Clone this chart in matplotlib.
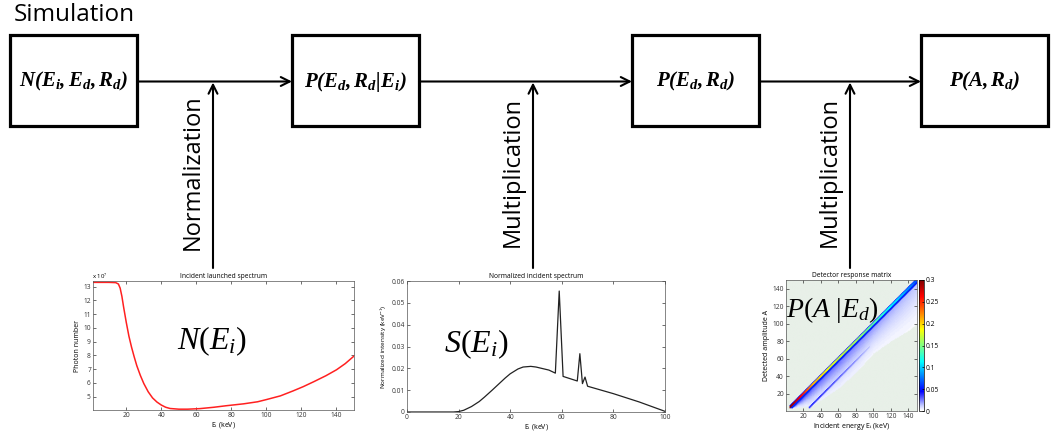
import numpy as np
import matplotlib
matplotlib.use('Agg')
import matplotlib.pyplot as plt
from matplotlib.colors import LinearSegmentedColormap
from matplotlib.patches import Rectangle

plt.rcParams['font.family'] = ['Open Sans', 'DejaVu Sans']
plt.rcParams['mathtext.fontset'] = 'custom'
plt.rcParams['mathtext.rm'] = 'Liberation Serif'
plt.rcParams['mathtext.it'] = 'Liberation Serif:italic'
plt.rcParams['mathtext.bf'] = 'Liberation Serif:bold:italic'

# --- flow diagram ---
box_labels = [r'$\mathbf{N(E_i,E_d,R_d)}$', r'$\mathbf{P(E_d,R_d|E_i)}$',
              r'$\mathbf{P(E_d,R_d)}$', r'$\mathbf{P(A,R_d)}$']
box_left = [10, 292, 632, 921]
step_labels = ['Normalization', 'Multiplication', 'Multiplication']
step_x = [213, 533, 850]

# --- incident launched spectrum (x 1e7) ---
n_E = [1, 10, 14, 15.5, 16.5, 17.5, 18.5, 20, 21.5, 23, 24.5, 26, 28, 30, 32.5, 35, 37.5, 40, 42.5,
       45, 50, 55, 62, 70, 77, 87, 95, 100, 108, 115, 121, 127, 134, 140, 145, 150]
n_val = [13.32, 13.32, 13.3, 13.2, 12.9, 12.3, 11.5, 10.4, 9.4, 8.6, 7.9, 7.25, 6.55, 5.95, 5.35,
         4.9, 4.6, 4.38, 4.22, 4.13, 4.08, 4.08, 4.12, 4.22, 4.33, 4.47, 4.62, 4.78, 5.05, 5.4,
         5.72, 6.08, 6.52, 6.95, 7.4, 7.95]

# --- normalized incident spectrum ---
s_E = [0, 18, 20, 22, 25, 28, 30, 33, 35, 38, 40, 43, 45, 48, 50, 55, 57.5, 59, 60.5, 66, 67, 68,
       69, 70, 80, 90, 100]
s_val = [0, 0, 0.0002, 0.0008, 0.0025, 0.0048, 0.0068, 0.0100, 0.0122, 0.0155, 0.0175, 0.0197,
         0.0206, 0.0209, 0.0206, 0.0192, 0.0178, 0.0554, 0.0163, 0.0142, 0.0267, 0.013, 0.016,
         0.0118, 0.0084, 0.0046, 0.0003]

# --- detector response matrix ---
peak_E = [3, 10, 20, 30, 50, 80, 110, 130, 145, 150]
peak_val = [0.3, 0.28, 0.25, 0.21, 0.18, 0.16, 0.125, 0.1, 0.075, 0.065]
low_E = [5, 20, 30, 60, 80, 100, 120, 140, 150]
low_A = [3, 5, 6, 26, 44, 66, 80, 92, 100]
cont_val = [0.04, 0.035, 0.03, 0.027, 0.024, 0.021, 0.018, 0.015, 0.013]
esc_E = [26, 40, 60, 75, 95]
esc_val = [0.05, 0.045, 0.035, 0.028, 0.015]
esc_shift = 22

W, H = 1062, 434
fig = plt.figure(figsize=(W / 100, H / 100), dpi=100)
ax = fig.add_axes([0, 0, 1, 1])
ax.set_xlim(0, W)
ax.set_ylim(H, 0)
ax.axis('off')

ax.text(14, 15, 'Simulation', fontsize=17.5, va='center', ha='left')

bw, bh, by = 127, 91, 35
ymid = by + bh / 2 + 1
for i, lab in enumerate(box_labels):
    ax.add_patch(Rectangle((box_left[i], by), bw, bh, fill=False, lw=2.3, ec='black'))
    ax.text(box_left[i] + bw / 2, ymid, lab, fontsize=15, ha='center', va='center')
    if i < 3:
        ax.annotate('', xy=(box_left[i + 1], ymid), xytext=(box_left[i] + bw, ymid),
                    arrowprops=dict(arrowstyle='->', lw=1.5, color='black',
                                    mutation_scale=16, shrinkA=0, shrinkB=0))
for x, lab in zip(step_x, step_labels):
    ax.annotate('', xy=(x, ymid + 1), xytext=(x, 268),
                arrowprops=dict(arrowstyle='->', lw=1.5, color='black',
                                mutation_scale=16, shrinkA=0, shrinkB=0))
    ax.text(x - 20, 172, lab, fontsize=17, rotation=90, ha='center', va='center')


def matlab_axes(a):
    a.tick_params(direction='in', top=True, right=True, labelsize=4.8, length=2,
                  width=0.5, pad=1.5, colors='#333333')
    for s in a.spines.values():
        s.set_linewidth(0.5)
        s.set_color('#555555')


# chart 1
a1 = fig.add_axes([93 / W, 1 - 410 / H, 261 / W, 129 / H])
a1.plot(n_E, n_val, color='#ff2020', lw=1.1)
a1.set_xlim(1, 150)
a1.set_ylim(4.02, 13.42)
a1.set_xticks(range(20, 141, 20))
a1.set_yticks(range(5, 14))
matlab_axes(a1)
a1.set_title('Incident launched spectrum', fontsize=4.8, pad=2)
a1.set_xlabel(r'E$_\mathrm{i}$ (keV)', fontsize=5, labelpad=1)
a1.set_ylabel('Photon number', fontsize=5, labelpad=2)
a1.text(-0.005, 1.0, r'x 10$^7$', transform=a1.transAxes, fontsize=4.3, va='bottom', ha='left')
a1.text(0.455, 0.53, r'$N(E_i)$', transform=a1.transAxes, fontsize=23, ha='center', va='center')

# chart 2
a2 = fig.add_axes([407 / W, 1 - 412 / H, 258 / W, 131 / H])
a2.plot(s_E, s_val, color='#222222', lw=0.9)
a2.set_xlim(0, 100)
a2.set_ylim(0, 0.06)
a2.set_xticks(range(0, 101, 20))
a2.set_yticks([0, 0.01, 0.02, 0.03, 0.04, 0.05, 0.06])
a2.set_yticklabels(['0', '0.01', '0.02', '0.03', '0.04', '0.05', '0.06'])
matlab_axes(a2)
a2.set_title('Normalized incident spectrum', fontsize=4.8, pad=2)
a2.set_xlabel(r'E$_\mathrm{i}$ (keV)', fontsize=5, labelpad=1)
a2.set_ylabel(r'Normalized intensity (keV$^{-1}$)', fontsize=4.6, labelpad=2)
a2.text(0.27, 0.52, r'$S(E_i)$', transform=a2.transAxes, fontsize=23, ha='center', va='center')

# chart 3
E = np.arange(0, 151)
M = np.zeros((151, 151))
pk = np.interp(E, peak_E, peak_val)
lo = np.interp(E, low_E, low_A)
cv = np.interp(E, low_E, cont_val)
ev = np.interp(E, esc_E, esc_val, left=0, right=0)
for e in range(4, 151):
    a_lo = int(lo[e])
    top = e - 4
    for a in range(a_lo, max(top, a_lo)):
        frac = (a - a_lo) / max(top - a_lo, 1)
        M[a, e] = cv[e] * (0.15 + 0.85 * frac ** 1.5)
    for a in range(max(e - 4, 0), e - 1):
        M[a, e] = 0.055
    for a in range(e - 1, min(e + 2, 151)):
        M[a, e] = pk[e]
    if e + 2 < 151:
        M[e + 2, e] = 0.05
    if esc_E[0] <= e <= esc_E[-1]:
        for k in range(3):
            M[e - esc_shift - k, e] = max(M[e - esc_shift - k, e], ev[e] * (1 - 0.25 * k))
M[:3, :] = 0
Mm = np.ma.masked_less_equal(M, 0)
cmap = LinearSegmentedColormap.from_list('wjet', [(0, '#ffffff'), (0.04, '#c4caff'), (0.15, '#0000ff'),
                                                  (0.375, '#00ffff'), (0.625, '#ffff00'),
                                                  (0.875, '#ff0000'), (1, '#800000')])
cmap.set_bad('#e8f0e8')
a3 = fig.add_axes([786 / W, 1 - 411 / H, 131 / W, 131 / H])
a3.set_facecolor('#e8f0e8')
im = a3.imshow(Mm, origin='lower', cmap=cmap, vmin=0, vmax=0.3, extent=(0, 151, 0, 151),
               aspect='auto', interpolation='antialiased', interpolation_stage='rgba')
a3.set_xlim(0, 150)
a3.set_ylim(0, 150)
a3.set_xticks(range(20, 141, 20))
a3.set_yticks(range(20, 141, 20))
matlab_axes(a3)
a3.set_title('Detector response matrix', fontsize=4.8, pad=2)
a3.set_xlabel(r'Incident energy E$_\mathrm{i}$ (keV)', fontsize=5, labelpad=1)
a3.set_ylabel('Detected amplitude A', fontsize=5, labelpad=2)
a3.text(0.0, 0.77, r'$P(A\ |E_d)$', transform=a3.transAxes, fontsize=20, ha='left', va='center')
cax = fig.add_axes([919 / W, 1 - 411 / H, 5 / W, 131 / H])
cb = fig.colorbar(im, cax=cax, ticks=[0, 0.05, 0.1, 0.15, 0.2, 0.25, 0.3])
cb.ax.set_yticklabels(['0', '0.05', '0.1', '0.15', '0.2', '0.25', '0.3'])
cb.ax.tick_params(labelsize=4.8, length=1.5, width=0.5, pad=1, direction='in')
cb.outline.set_linewidth(0.5)

fig.savefig('out.png', dpi=100)
